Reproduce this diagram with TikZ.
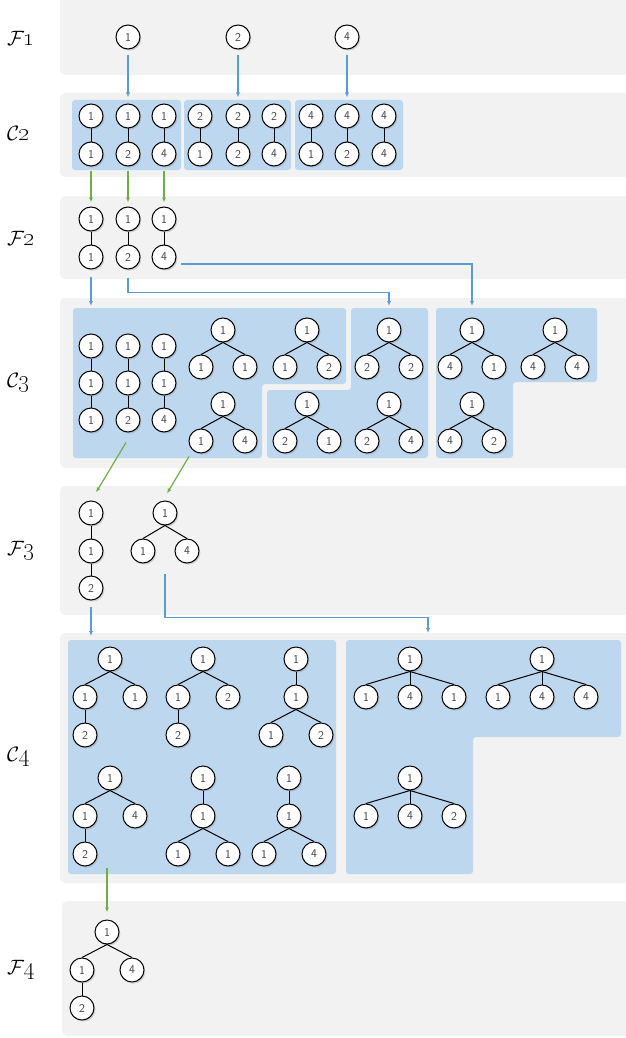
\documentclass[tikz,border=0pt]{standalone}
\usetikzlibrary{arrows.meta,shadows}
\definecolor{boxblue}{RGB}{189,215,238}
\definecolor{linkblue}{RGB}{91,155,213}
\definecolor{linkgreen}{RGB}{112,173,71}
\begin{document}
\begin{tikzpicture}[x=1pt,y=-1pt,
    vtx/.style={circle, draw=black, line width=1pt, fill=white, minimum size=24pt, inner sep=0pt,
      text=black!75, font=\sffamily\fontsize{12}{14}\selectfont,
      drop shadow={shadow xshift=1.4pt, shadow yshift=-1.6pt, opacity=0.3}},
    tedge/.style={line width=1pt},
    band/.style={fill=gray!10, rounded corners=5pt},
    region/.style={fill=boxblue, rounded corners=3pt},
    blink/.style={linkblue, line width=1.2pt, -{Latex[length=5pt,width=4pt]}},
    glink/.style={linkgreen, line width=1.2pt, -{Latex[length=5pt,width=4pt]}},
    lvl/.style={anchor=west, inner sep=0pt, font=\fontsize{20}{24}\selectfont}]
  \useasboundingbox (0,0) rectangle (625,1038);
  % grey bands, one per level
  \fill[band] (60,-10) rectangle (640,75);
  \fill[band] (60,93) rectangle (640,177);
  \fill[band] (60,196) rectangle (640,279);
  \fill[band] (60,298) rectangle (640,468);
  \fill[band] (60,486) rectangle (640,615);
  \fill[band] (60,633) rectangle (640,883);
  \fill[band] (62,901) rectangle (640,1036);
  \foreach \sym/\k/\y in {F/1/38, C/2/133, F/2/238, C/3/383, F/3/551, C/4/757, F/4/970}
    \node[lvl] (lab\sym\k) at (7,\y) {$\mathcal{\sym}$\kern-1pt{\fontsize{24}{26}\selectfont\oldstylenums{\k}}};

  % candidate groups
  \fill[region] (72,100) rectangle (181,170);
  \fill[region] (184,100) rectangle (291,170);
  \fill[region] (295,100) rectangle (403,170);
  \fill[region] (73,308) -- (346,308) -- (346,384) -- (262,384) -- (262,458) -- (73,458) -- cycle;
  \fill[region] (351,308) -- (428,308) -- (428,458) -- (267,458) -- (267,390) -- (351,390) -- cycle;
  \fill[region] (436,308) -- (597,308) -- (597,382) -- (513,382) -- (513,458) -- (436,458) -- cycle;
  \fill[region] (68,640) rectangle (336,874);
  \fill[region] (346,640) -- (621,640) -- (621,737) -- (473,737) -- (473,874) -- (346,874) -- cycle;

  % F1
  \foreach \v/\x in {1/128, 2/238, 4/347}
    \node[vtx] (f1n\v) at (\x,37) {\v};
  % C2
  \foreach \t/\b/\x [count=\i] in {1/1/91,1/2/128,1/4/164,2/1/200,2/2/238,2/4/274,4/1/311,4/2/347,4/4/384} {
    \node[vtx] (c2t\i) at (\x,116) {\t};
    \node[vtx] (c2b\i) at (\x,154) {\b};
    \draw[tedge] (c2t\i) -- (c2b\i);
  }
  \draw[blink] ([yshift=-6pt]f1n1.south) -- ([yshift=6pt]c2t2.north);
  \draw[blink] ([yshift=-6pt]f1n2.south) -- ([yshift=6pt]c2t5.north);
  \draw[blink] ([yshift=-6pt]f1n4.south) -- ([yshift=6pt]c2t8.north);
  % F2
  \foreach \b/\x [count=\i] in {1/91,2/128,4/164} {
    \node[vtx] (f2t\i) at (\x,219) {1};
    \node[vtx] (f2b\i) at (\x,257) {\b};
    \draw[tedge] (f2t\i) -- (f2b\i);
    \draw[glink] ([yshift=-4pt]c2b\i.south) -- ([yshift=4pt]f2t\i.north);
  }
  % C3
  \foreach \c/\x [count=\i] in {1/91,2/128,4/164} {
    \node[vtx] (c3a\i) at (\x,346) {1};
    \node[vtx] (c3b\i) at (\x,383) {1};
    \node[vtx] (c3c\i) at (\x,420) {\c};
    \draw[tedge] (c3a\i) -- (c3b\i) -- (c3c\i);
  }
  \foreach \nm/\x/\y/\r/\a/\b in {c3t1/223/330/1/1/1, c3t2/307/330/1/1/2, c3t3/389/330/1/2/2,
      c3t4/223/404/1/1/4, c3t5/307/404/1/2/1, c3t6/389/404/1/2/4,
      c3t7/472/330/1/4/1, c3t8/555/330/1/4/4, c3t9/472/404/1/4/2} {
    \node[vtx] (\nm r) at (\x,\y) {\r};
    \node[vtx] (\nm l) at (\x-22,\y+37) {\a};
    \node[vtx] (\nm q) at (\x+22,\y+37) {\b};
    \draw[tedge] (\nm l.north) -- (\nm r.south) -- (\nm q.north);
  }
  \coordinate (c3in) at (0,306);
  \draw[blink] ([yshift=-7pt]f2b1.south) -- (f2b1 |- c3in);
  \draw[blink] ([yshift=-8pt]f2b2.south) -- ++(0,15) -| (c3t3r |- c3in);
  \draw[blink] ([xshift=4pt,yshift=-7pt]f2b3.east) -| (c3t7r |- c3in);
  % F3
  \node[vtx] (f3a) at (91,513) {1};
  \node[vtx] (f3b) at (91,551) {1};
  \node[vtx] (f3c) at (91,588) {2};
  \draw[tedge] (f3a) -- (f3b) -- (f3c);
  \node[vtx] (f3r) at (165,513) {1};
  \node[vtx] (f3l) at (143,551) {1};
  \node[vtx] (f3q) at (187,551) {4};
  \draw[tedge] (f3l.north) -- (f3r.south) -- (f3q.north);
  \draw[glink] ([xshift=-2pt,yshift=-10pt]c3c2.south) -- ([xshift=5pt,yshift=8pt]f3a.north);
  \draw[glink] ([xshift=-12pt,yshift=-3pt]c3t4l.south) -- ([xshift=2pt,yshift=7pt]f3r.north);
  % C4
  \foreach \nm/\x/\y/\r/\a/\b/\g in {c4t1/110/659/1/1/1/2, c4t2/203/659/1/1/2/2, c4t4/110/778/1/1/4/2} {
    \node[vtx] (\nm r) at (\x,\y) {\r};
    \node[vtx] (\nm l) at (\x-25,\y+38) {\a};
    \node[vtx] (\nm q) at (\x+25,\y+38) {\b};
    \node[vtx] (\nm g) at (\x-25,\y+76) {\g};
    \draw[tedge] (\nm l.north) -- (\nm r.south) -- (\nm q.north);
    \draw[tedge] (\nm l) -- (\nm g);
  }
  \foreach \nm/\x/\y/\r/\m/\a/\b in {c4t3/296/659/1/1/1/2, c4t5/203/778/1/1/1/1, c4t6/289/778/1/1/1/4} {
    \node[vtx] (\nm r) at (\x,\y) {\r};
    \node[vtx] (\nm m) at (\x,\y+38) {\m};
    \node[vtx] (\nm l) at (\x-25,\y+76) {\a};
    \node[vtx] (\nm q) at (\x+25,\y+76) {\b};
    \draw[tedge] (\nm r) -- (\nm m);
    \draw[tedge] (\nm l.north) -- (\nm m.south) -- (\nm q.north);
  }
  \foreach \nm/\x/\y/\a/\m/\b in {c4t7/410/659/1/4/1, c4t8/542/659/1/4/4, c4t9/410/778/1/4/2} {
    \node[vtx] (\nm r) at (\x,\y) {1};
    \node[vtx] (\nm l) at (\x-44,\y+38) {\a};
    \node[vtx] (\nm m) at (\x,\y+38) {\m};
    \node[vtx] (\nm q) at (\x+44,\y+38) {\b};
    \draw[tedge] (\nm l.north) -- (\nm r.south) -- (\nm q.north);
    \draw[tedge] (\nm r) -- (\nm m);
  }
  \coordinate (c4in) at (0,636);
  \coordinate (c4bin) at (428,633);
  \coordinate (f3out) at (f3r |- f3l.south);
  \draw[blink] ([yshift=-6pt]f3c.south) -- (f3c |- c4in);
  \draw[blink] ([yshift=-10pt]f3out) -- ++(0,44) -| (c4bin);
  % F4
  \node[vtx] (f4r) at (107,932) {1};
  \node[vtx] (f4l) at (82,970) {1};
  \node[vtx] (f4q) at (132,970) {4};
  \node[vtx] (f4g) at (82,1008) {2};
  \draw[tedge] (f4l.north) -- (f4r.south) -- (f4q.north);
  \draw[tedge] (f4l) -- (f4g);
  \coordinate (c4out) at (107,868);
  \draw[glink] (c4out) -- ([yshift=7pt]f4r.north);
\end{tikzpicture}
\end{document}
